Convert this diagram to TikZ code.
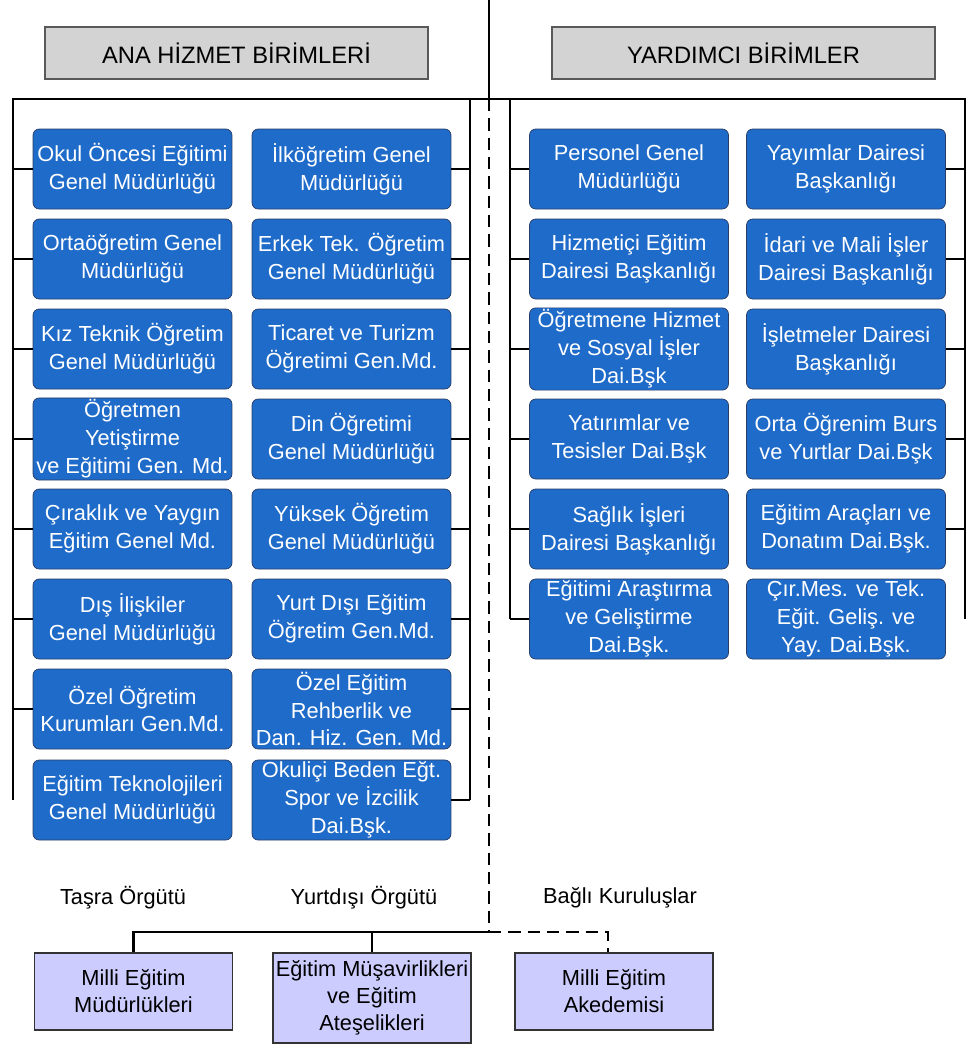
\documentclass[tikz,border=0pt]{standalone}
\usepackage{fontspec}
\setmainfont{Liberation Sans}
\definecolor{unitblue}{RGB}{31,107,201}
\definecolor{unitline}{RGB}{40,60,100}
\definecolor{headgray}{RGB}{211,211,211}
\definecolor{lavender}{RGB}{204,204,255}
\tikzset{
  unit/.style={draw=unitline, fill=unitblue, rounded corners=3.5pt, text=white, align=center,
    minimum width=3.98cm, minimum height=1.6cm, inner sep=1pt, font=\fontsize{12.4}{15.9}\selectfont},
  header/.style={draw=black!65, line width=0.8pt, fill=headgray, minimum width=7.66cm, minimum height=1.04cm,
    font=\fontsize{13.5}{16}\selectfont},
  outer/.style={draw=black!80, line width=0.8pt, fill=lavender, align=center, minimum width=3.96cm,
    minimum height=1.54cm, inner sep=1pt, font=\fontsize{12.4}{15.3}\selectfont},
  caption/.style={font=\fontsize{12.4}{15}\selectfont},
  link/.style={line width=1.5pt},
  dashlink/.style={line width=1.6pt, dash pattern=on 7pt off 4pt}
}

\begin{document}
\begin{tikzpicture}[x=0.02cm, y=-0.02cm]
        \useasboundingbox (0,0) rectangle (967,1046);

        % headers
        \node[header] at (236.5, 53) (ana)  {ANA HİZMET BİRİMLERİ};
        \node[header] at (743.5, 53) (yard) {YARDIMCI BİRİMLER};

        % ana hizmet birimleri
        \node[unit] at (132.5, 169) (a1) {Okul Öncesi Eğitimi\\Genel Müdürlüğü};
        \node[unit] at (132.5, 259) (a2) {Ortaöğretim Genel\\Müdürlüğü};
        \node[unit] at (132.5, 349) (a3) {Kız Teknik Öğretim\\Genel Müdürlüğü};
        \node[unit] at (132.5, 439) (a4) {Öğretmen\\Yetiştirme\\ve Eğitimi Gen. Md.};
        \node[unit] at (132.5, 529) (a5) {Çıraklık ve Yaygın\\Eğitim Genel Md.};
        \node[unit] at (132.5, 619) (a6) {Dış İlişkiler\\Genel Müdürlüğü};
        \node[unit] at (132.5, 709) (a7) {Özel Öğretim\\Kurumları Gen.Md.};
        \node[unit] at (132.5, 800) (a8) {Eğitim Teknolojileri\\Genel Müdürlüğü};

        \node[unit] at (351.5, 169) (b1) {İlköğretim Genel\\Müdürlüğü};
        \node[unit] at (351.5, 259) (b2) {Erkek Tek. Öğretim\\Genel Müdürlüğü};
        \node[unit] at (351.5, 349) (b3) {Ticaret ve Turizm\\Öğretimi Gen.Md.};
        \node[unit] at (351.5, 439) (b4) {Din Öğretimi\\Genel Müdürlüğü};
        \node[unit] at (351.5, 529) (b5) {Yüksek Öğretim\\Genel Müdürlüğü};
        \node[unit] at (351.5, 619) (b6) {Yurt Dışı Eğitim\\Öğretim Gen.Md.};
        \node[unit] at (351.5, 709) (b7) {Özel Eğitim\\Rehberlik ve\\Dan. Hiz. Gen. Md.};
        \node[unit] at (351.5, 800) (b8) {Okuliçi Beden Eğt.\\Spor ve İzcilik\\Dai.Bşk.};

        % yardimci birimler
        \node[unit] at (629, 169) (c1) {Personel Genel\\Müdürlüğü};
        \node[unit] at (629, 259) (c2) {Hizmetiçi Eğitim\\Dairesi Başkanlığı};
        \node[unit] at (629, 349) (c3) {Öğretmene Hizmet\\ve Sosyal İşler\\Dai.Bşk};
        \node[unit] at (629, 439) (c4) {Yatırımlar ve\\Tesisler Dai.Bşk};
        \node[unit] at (629, 529) (c5) {Sağlık İşleri\\Dairesi Başkanlığı};
        \node[unit] at (629, 619) (c6) {Eğitimi Araştırma\\ve Geliştirme\\Dai.Bşk.};

        \node[unit] at (846, 169) (d1) {Yayımlar Dairesi\\Başkanlığı};
        \node[unit] at (846, 259) (d2) {İdari ve Mali İşler\\Dairesi Başkanlığı};
        \node[unit] at (846, 349) (d3) {İşletmeler Dairesi\\Başkanlığı};
        \node[unit] at (846, 439) (d4) {Orta Öğrenim Burs\\ve Yurtlar Dai.Bşk};
        \node[unit] at (846, 529) (d5) {Eğitim Araçları ve\\Donatım Dai.Bşk.};
        \node[unit] at (846, 619) (d6) {Çır.Mes. ve Tek.\\Eğit. Geliş. ve\\Yay. Dai.Bşk.};

        % tasra, yurtdisi, bagli
        \node[caption] at (123, 898) (tasra)  {Taşra Örgütü};
        \node[caption] at (364, 898) (yurt)   {Yurtdışı Örgütü};
        \node[caption] at (620, 898) (bagli)  {Bağlı Kuruluşlar};
        \node[outer] at (133.5, 991.5) (m1) {Milli Eğitim\\Müdürlükleri};
        \node[outer, minimum height=1.8cm] at (372, 998) (m2) {Eğitim Müşavirlikleri\\ve Eğitim\\Ateşelikleri};
        \node[outer] at (614, 991.5) (m3) {Milli Eğitim\\Akedemisi};

        \coordinate (top) at (489, 0);
        \coordinate (mid) at (489, 99);
        \coordinate (ll)  at (13, 99);
        \coordinate (lr)  at (470, 99);
        \coordinate (rl)  at (510, 99);
        \coordinate (rr)  at (965, 99);
        \coordinate (j)   at (489, 932);

        \draw[link] (top) -- (mid);
        \draw[link] (a8.west -| ll) -- (ll) -- (rr) -- (rr |- d6.east);
        \draw[link] (lr) -- (lr |- b8.east);
        \draw[link] (rl) -- (rl |- c6.west);

        \draw[link] (a1.west) -- (a1.west -| ll);
        \draw[link] (a2.west) -- (a2.west -| ll);
        \draw[link] (a3.west) -- (a3.west -| ll);
        \draw[link] (a4.west) -- (a4.west -| ll);
        \draw[link] (a5.west) -- (a5.west -| ll);
        \draw[link] (a6.west) -- (a6.west -| ll);
        \draw[link] (a7.west) -- (a7.west -| ll);
        \draw[link] (b1.east) -- (b1.east -| lr);
        \draw[link] (b2.east) -- (b2.east -| lr);
        \draw[link] (b3.east) -- (b3.east -| lr);
        \draw[link] (b4.east) -- (b4.east -| lr);
        \draw[link] (b5.east) -- (b5.east -| lr);
        \draw[link] (b6.east) -- (b6.east -| lr);
        \draw[link] (b7.east) -- (b7.east -| lr);
        \draw[link] (b8.east) -- (b8.east -| lr);
        \draw[link] (c1.west) -- (c1.west -| rl);
        \draw[link] (c2.west) -- (c2.west -| rl);
        \draw[link] (c3.west) -- (c3.west -| rl);
        \draw[link] (c4.west) -- (c4.west -| rl);
        \draw[link] (c5.west) -- (c5.west -| rl);
        \draw[link] (c6.west) -- (c6.west -| rl);
        \draw[link] (d1.east) -- (d1.east -| rr);
        \draw[link] (d2.east) -- (d2.east -| rr);
        \draw[link] (d3.east) -- (d3.east -| rr);
        \draw[link] (d4.east) -- (d4.east -| rr);
        \draw[link] (d5.east) -- (d5.east -| rr);

        \draw[dashlink] (mid) -- (j);
        \draw[link] (j) -| (m1.north);
        \draw[link] (m2.north) -- (m2.north |- j);
        \draw[dashlink] (j) -| ([xshift=-0.12cm]m3.north);
    \end{tikzpicture}
\end{document}
